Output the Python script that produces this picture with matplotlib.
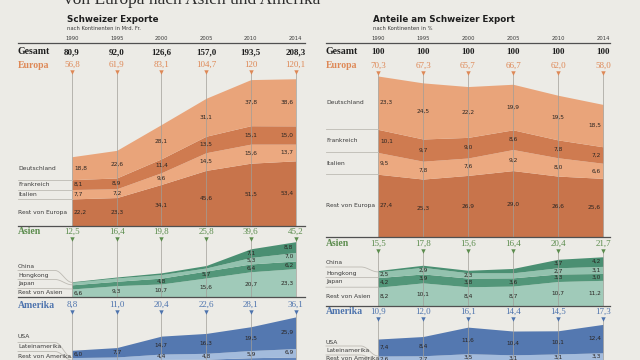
import numpy as np
import matplotlib
matplotlib.use('Agg')
import matplotlib.pyplot as plt

# Jahre und Gesamtwerte
years = ['1990', '1995', '2000', '2005', '2010', '2014']
gesamt_mrd = ['80,9', '92,0', '126,6', '157,0', '193,5', '208,3']
gesamt_pct = ['100', '100', '100', '100', '100', '100']

# Europa (Mrd. Fr. / %)
europa_mrd_lbl = ['56,8', '61,9', '83,1', '104,7', '120', '120,1']
europa_pct_lbl = ['70,3', '67,3', '65,7', '66,7', '62,0', '58,0']
de_mrd = [18.8, 22.6, 28.1, 31.1, 37.8, 38.6]
fr_mrd = [8.1, 8.9, 11.4, 13.5, 15.1, 15.0]
it_mrd = [7.7, 7.2, 9.6, 14.5, 15.6, 13.7]
reu_mrd = [22.2, 23.3, 34.1, 45.6, 51.5, 53.4]
de_pct = [23.3, 24.5, 22.2, 19.9, 19.5, 18.5]
fr_pct = [10.1, 9.7, 9.0, 8.6, 7.8, 7.2]
it_pct = [9.5, 7.8, 7.6, 9.2, 8.0, 6.6]
reu_pct = [27.4, 25.3, 26.9, 29.0, 26.6, 25.6]

# Asien
asien_mrd_lbl = ['12,5', '16,4', '19,8', '25,8', '39,6', '45,2']
asien_pct_lbl = ['15,5', '17,8', '15,6', '16,4', '20,4', '21,7']
cn_mrd = [0.5, 0.8, 1.4, 2.0, 7.1, 8.8]
hk_mrd = [2.0, 2.7, 2.9, 2.5, 5.3, 7.0]
jp_mrd = [3.4, 3.6, 4.8, 5.7, 6.4, 6.2]
ras_mrd = [6.6, 9.3, 10.7, 15.6, 20.7, 23.3]
cn_pct = [0.6, 0.9, 1.1, 1.9, 3.7, 4.2]
hk_pct = [2.5, 2.9, 2.3, 2.2, 2.7, 3.1]
jp_pct = [4.2, 3.9, 3.8, 3.6, 3.3, 3.0]
ras_pct = [8.2, 10.1, 8.4, 8.7, 10.7, 11.2]

# Amerika
amerika_mrd_lbl = ['8,8', '11,0', '20,4', '22,6', '28,1', '36,1']
amerika_pct_lbl = ['10,9', '12,0', '16,1', '14,4', '14,5', '17,3']
usa_mrd = [6.0, 7.7, 14.7, 16.3, 19.5, 25.9]
lat_mrd = [2.1, 2.5, 4.4, 4.8, 5.9, 6.9]
ram_mrd = [0.7, 0.8, 1.3, 1.5, 2.7, 3.3]
usa_pct = [7.4, 8.4, 11.6, 10.4, 10.1, 12.4]
lat_pct = [2.6, 2.7, 3.5, 3.1, 3.1, 3.3]
ram_pct = [0.9, 0.9, 1.0, 0.9, 1.3, 1.6]

BG = '#ecebe6'
SANS = ['Liberation Sans Narrow', 'DejaVu Sans']
SERIF = ['Liberation Serif', 'DejaVu Serif']
GRID = '#a19e98'
SEP = '#bdbab3'
RULE = '#505050'
EU_C = '#de8856'
AS_C = '#5b8c4d'
AM_C = '#4d73ad'
eu_cols = ['#c8744b', '#eca980', '#cf7b50', '#e9a47a']
as_cols = ['#a0cab9', '#529679', '#93c2ae', '#4a8f72']
am_cols = ['#6284ba', '#a3bbdc', '#5478b0']

W, H = 640, 360
fig = plt.figure(figsize=(6.4, 3.6), dpi=100)
fig.patch.set_facecolor(BG)
base = fig.add_axes([0, 0, 1, 1])
base.set_xlim(0, W)
base.set_ylim(H, 0)
base.axis('off')


def fmt(v):
    return f'{v:.1f}'.replace('.', ',')


def ease(x0, y0, x1, y1, n=24):
    t = np.linspace(0, 1, n)
    return x0 + (x1 - x0) * t, y0 + (y1 - y0) * (1 - np.cos(np.pi * t)) / 2


# panel: x0, step, scale, axes left/right px, label x, rule right
LEFT = dict(x0=72, step=44.7, scale=1.22, xl=14, xr=310, lx=18, rx=305)
RIGHT = dict(x0=378, step=45.0, scale=2.29, xl=320, xr=616, lx=326, rx=610)


def section(p, top, bottom, series, colors, names, head_name, head_lbls, head_col,
            name_y=None, sep_y=None, rule=True):
    x0, step, scale = p['x0'], p['step'], p['scale']
    ax = fig.add_axes([p['xl'] / W, 1 - bottom / H, (p['xr'] - p['xl']) / W, (bottom - top) / H])
    ax.set_xlim((p['xl'] - x0) / step, (p['xr'] - x0) / step)
    ytop = (bottom - top) / scale
    ax.set_ylim(0, ytop)
    ax.axis('off')
    dx = lambda px: (px - x0) / step
    dy = lambda py: (bottom - py) / scale

    xs = np.arange(len(years))
    last = len(years) - 1
    cum = np.zeros(len(years))
    bands = []
    for vals, col in zip(series, colors):
        v = np.asarray(vals, float)
        ax.fill_between(xs, cum, cum + v, color=col, lw=0, zorder=1)
        for i in xs:
            if v[i] * scale >= 5.15:
                if i == 0:
                    tx, ha = i + 2 / step, 'left'
                elif i == last:
                    tx, ha = i - 2 / step, 'right'
                else:
                    tx, ha = i, 'center'
                ax.text(tx, cum[i] + v[i] / 2, fmt(v[i]), ha=ha, va='center',
                        fontsize=4.2, family=SANS, color='#2a2522', zorder=6)
        bands.append((cum[0], cum[0] + v[0]))
        cum = cum + v

    # Spaltenlinien und Dreiecke
    for i in xs:
        ax.plot([i, i], [0, ytop], color=GRID, lw=0.5, zorder=2, clip_on=False)
    ax.plot(xs, np.full(len(xs), ytop), 'v', ms=3.2, color=head_col, mec='none',
            clip_on=False, zorder=4)
    yh = ytop + 7 / scale
    for i, lbl in zip(xs, head_lbls):
        ax.text(i, yh, lbl, ha='center', va='center', fontsize=6.5, family=SERIF, color=head_col)
    ax.text(dx(p['lx']), yh, head_name, ha='left', va='center', fontsize=7,
            family=SERIF, weight='bold', color=head_col)

    # Namen links
    for k, nm in enumerate(names):
        y = (bands[k][0] + bands[k][1]) / 2 if name_y is None else dy(name_y[k])
        ax.text(dx(p['lx']), y, nm, ha='left', va='center', fontsize=4.3,
                family=SANS, color='#3a3a3a')
    for k in range(len(names) - 1):
        yb = bands[k][1]
        if sep_y is None:
            ax.plot([dx(p['lx']), 0], [yb, yb], color=SEP, lw=0.6, clip_on=False, zorder=2)
        else:
            ys = dy(sep_y[k])
            bend = dx(x0 - 17)
            cx, cy = ease(bend, ys, 0, yb)
            ax.plot(np.r_[dx(p['lx']), cx], np.r_[ys, cy], color=SEP, lw=0.6,
                    clip_on=False, zorder=2)
    if rule:
        ax.plot([dx(p['lx']), dx(p['rx'])], [0, 0], color=RULE, lw=0.9,
                clip_on=False, zorder=5)
    return ax


def header(p, title, sub, tx, totals):
    base.text(tx, 20, title, fontsize=6.3, weight='bold', family=SANS,
              color='#1e1e1e', va='center')
    base.text(tx, 28, sub, fontsize=3.8, family=SANS, color='#3a3a3a', va='center')
    for i, y in enumerate(years):
        base.text(p['x0'] + p['step'] * i, 38, y, fontsize=3.8, family=SANS,
                  color='#3a3a3a', ha='center', va='center')
    base.plot([p['lx'], p['rx']], [43, 43], color=RULE, lw=0.9)
    base.text(p['lx'], 52, 'Gesamt', fontsize=7, weight='bold', family=SERIF,
              color='#1e1e1e', va='center')
    for i, v in enumerate(totals):
        base.text(p['x0'] + p['step'] * i, 52, v, fontsize=6.5, weight='bold',
                  family=SERIF, color='#1e1e1e', ha='center', va='center')


# Titel, oben abgeschnitten wie im Original
base.text(64, 4.5, 'von Europa nach Asien und Amerika', fontsize=12.5, family=SERIF,
          color='#2d2d2d', va='baseline')

header(LEFT, 'Schweizer Exporte', 'nach Kontinenten in Mrd. Fr.', 67, gesamt_mrd)
header(RIGHT, 'Anteile am Schweizer Export', 'nach Kontinenten in %', 373, gesamt_pct)

eu_names = ['Rest von Europa', 'Italien', 'Frankreich', 'Deutschland']
as_names = ['Rest von Asien', 'Japan', 'Hongkong', 'China']
am_names = ['Rest von Amerika', 'Lateinamerika', 'USA']

section(LEFT, 72, 226, [reu_mrd, it_mrd, fr_mrd, de_mrd], eu_cols, eu_names,
        'Europa', europa_mrd_lbl, EU_C)
section(LEFT, 239, 297, [ras_mrd, jp_mrd, hk_mrd, cn_mrd], as_cols, as_names,
        'Asien', asien_mrd_lbl, AS_C, name_y=[293, 284, 275, 266], sep_y=[288.5, 279.5, 270.5])
section(LEFT, 312, 361, [ram_mrd, lat_mrd, usa_mrd], am_cols, am_names,
        'Amerika', amerika_mrd_lbl, AM_C, name_y=[356, 347, 337], sep_y=[351.5, 342.5], rule=False)

section(RIGHT, 73, 237, [reu_pct, it_pct, fr_pct, de_pct], eu_cols, eu_names,
        'Europa', europa_pct_lbl, EU_C)
section(RIGHT, 251, 306, [ras_pct, jp_pct, hk_pct, cn_pct], as_cols, as_names,
        'Asien', asien_pct_lbl, AS_C, name_y=[297, 282, 273, 263], sep_y=[287.2, 277.6, 267])
section(RIGHT, 319, 364, [ram_pct, lat_pct, usa_pct], am_cols, am_names,
        'Amerika', amerika_pct_lbl, AM_C, name_y=[359, 351, 342], sep_y=[355, 346], rule=False)

fig.savefig('out.png', dpi=100, facecolor=BG)
